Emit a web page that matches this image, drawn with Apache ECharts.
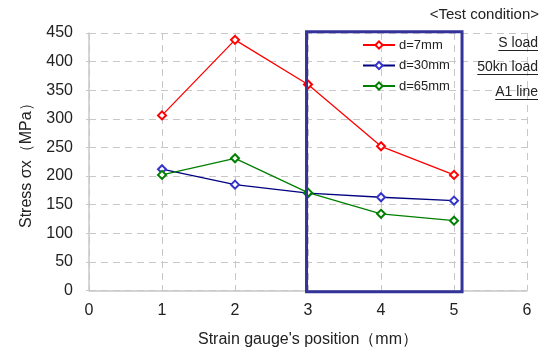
<!DOCTYPE html>
<html>
<head>
<meta charset="utf-8">
<script src="https://cdn.jsdelivr.net/npm/echarts@6/dist/echarts.min.js"></script>
<style>html,body{margin:0;padding:0;background:#fff}#c{width:547px;height:354px}</style>
</head>
<body>
<div id="c"></div>
<script>
const positions = [1, 2, 3, 4, 5];
const d7 = [306, 438, 360, 252, 202];
const d30 = [212, 185, 170, 163, 157];
const d65 = [202, 231, 171, 134, 122];
const seriesNames = ['d=7mm', 'd=30mm', 'd=65mm'];
const seriesColors = ['#ff0000', '#000080', '#008000'];
const markerColors = ['#ff0000', '#3333cc', '#008000'];
const conditions = ['S load', '50kn load', 'A1 line'];
const highlightX = [2.98, 5.11];
const highlightY = [-2, 452];

const FONT = 'Liberation Sans, Arial, sans-serif';
const chart = echarts.init(document.getElementById('c'), null, {renderer: 'canvas'});
const allData = [d7, d30, d65];

const option = {
  animation: false,
  backgroundColor: '#fff',
  textStyle: {fontFamily: FONT},
  grid: {left: 89, right: 20, top: 33, bottom: 63.5},
  legend: {
    orient: 'vertical',
    left: 362, top: 38.5,
    itemGap: 7.5,
    itemWidth: 32, itemHeight: 9,
    padding: 0,
    textStyle: {fontFamily: FONT, fontSize: 13, color: '#222', padding: [0, 0, 0, -1]},
    data: seriesNames
  },
  xAxis: {
    type: 'value', min: 0, max: 6, interval: 1,
    name: "Strain gauge's position（mm）",
    nameLocation: 'middle', nameGap: 41,
    nameTextStyle: {fontFamily: FONT, fontSize: 16, color: '#222'},
    axisLine: {show: true, lineStyle: {color: '#c8c8c8', width: 1.5}},
    axisTick: {show: false},
    axisLabel: {fontFamily: FONT, fontSize: 16, color: '#222', margin: 12},
    splitLine: {show: true, lineStyle: {color: '#c8c8c8', type: [7, 5], width: 1}}
  },
  yAxis: {
    type: 'value', min: 0, max: 450, interval: 50,
    name: 'Stress σx（MPa）',
    nameLocation: 'middle', nameGap: 54,
    nameTextStyle: {fontFamily: FONT, fontSize: 16, color: '#222'},
    axisLine: {show: true, lineStyle: {color: '#c8c8c8', width: 1.5}},
    axisTick: {show: true, length: 3, lineStyle: {color: '#c8c8c8'}},
    axisLabel: {fontFamily: FONT, fontSize: 16, color: '#222', margin: 16},
    splitLine: {show: true, lineStyle: {color: '#c8c8c8', type: [7, 5], width: 1}}
  },
  series: allData.map((arr, i) => ({
    name: seriesNames[i],
    type: 'line',
    data: positions.map((x, j) => [x, arr[j]]),
    symbol: 'emptyDiamond',
    symbolSize: 8,
    lineStyle: {color: seriesColors[i], width: 1.3},
    itemStyle: {color: markerColors[i], borderColor: markerColors[i], borderWidth: 1.3},
    z: 3 + i
  }))
};
chart.setOption(option);

const p1 = chart.convertToPixel({gridIndex: 0}, [highlightX[0], highlightY[1]]);
const p2 = chart.convertToPixel({gridIndex: 0}, [highlightX[1], highlightY[0]]);
const graphics = [{
  type: 'rect',
  shape: {x: p1[0], y: p1[1], width: p2[0] - p1[0], height: p2[1] - p1[1]},
  style: {fill: 'none', stroke: '#333399', lineWidth: 3},
  z: 10
}, {
  type: 'text', right: 8, top: 7,
  style: {text: '<Test condition>', fontFamily: FONT, fontSize: 15, fill: '#222', textAlign: 'right'},
  z: 10
}];
const condTops = [36, 60, 85];
conditions.forEach((t, i) => {
  graphics.push({
    type: 'text', right: 9, top: condTops[i],
    style: {text: t, fontFamily: FONT, fontSize: 14, fill: '#222', textAlign: 'right'},
    z: 10
  });
});
const ctx = document.createElement('canvas').getContext('2d');
ctx.font = '14px ' + FONT;
conditions.forEach((t, i) => {
  const w = ctx.measureText(t).width;
  graphics.push({
    type: 'line',
    shape: {x1: 538 - w, y1: condTops[i] + 14.5, x2: 538, y2: condTops[i] + 14.5},
    style: {stroke: '#222', lineWidth: 1},
    z: 10
  });
});
chart.setOption({graphic: graphics});
</script>
</body>
</html>
